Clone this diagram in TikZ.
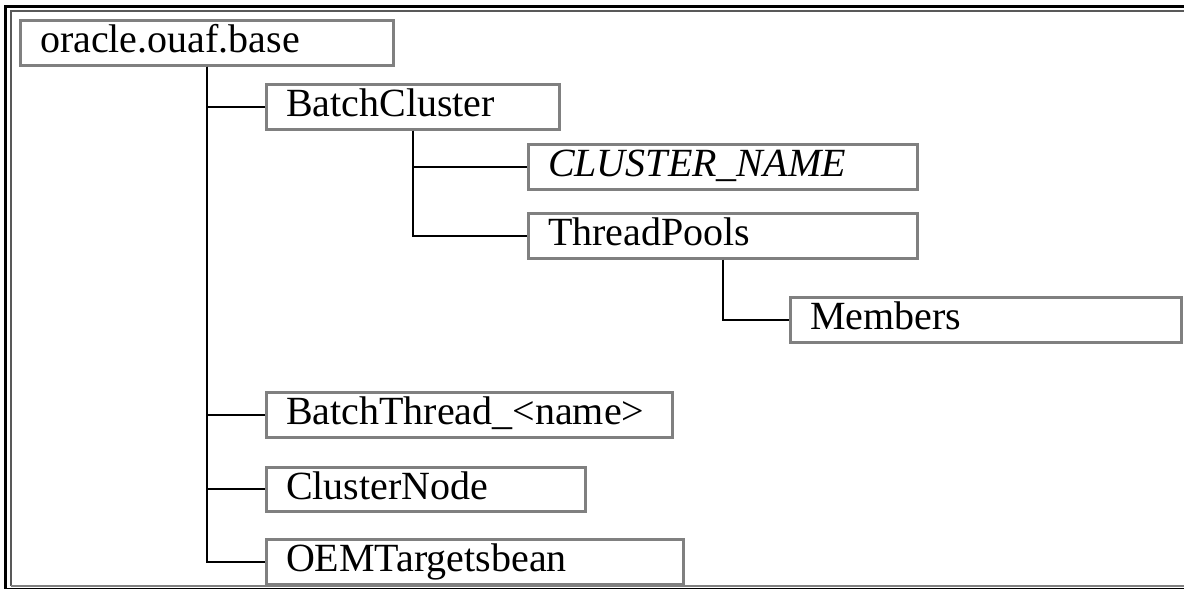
\documentclass[tikz,border=0pt]{standalone}
\usepackage{fontspec}
\setmainfont{Liberation Serif}
\usetikzlibrary{calc}

\tikzset{
  box/.style={draw=gray, line width=1.5pt, anchor=north west, align=left,
    inner xsep=10pt, inner ysep=2pt, minimum height=22.5pt, text height=14pt, text depth=4pt,
    font=\fontsize{20}{24}\selectfont},
  conn/.style={line width=1pt}
}

\begin{document}
\begin{tikzpicture}[x=0.5pt, y=-0.5pt]

  \useasboundingbox (0,0) rectangle (1184,589);

  % Double frame
  \draw[line width=1.5pt] (5,589) -- (5,6.5) -- (1184,6.5);
  \draw[line width=1pt, gray!70!black] (11,586) -- (11,11) -- (1184,11);
  \draw[line width=0.6pt, gray] (11,586) -- (1184,586);
  \draw[line width=0.8pt] (5,588.5) -- (1184,588.5);

  % Boxes
  \node[box, text width=166.5pt] (root) at (18.5,18.5) {oracle.ouaf.base};
  \node[box, text width=126.5pt] (cluster) at (264.5,82.5) {BatchCluster};
  \node[box, text width=174.5pt] (clname) at (526.5,142.5) {\itshape CLUSTER\_NAME};
  \node[box, text width=174.5pt] (pools) at (526.5,211.5) {ThreadPools};
  \node[box, text width=175.5pt] (members) at (788.5,295.5) {Members};
  \node[box, text width=183pt] (thread) at (264.5,390.5) {BatchThread\_<name>};
  \node[box, text width=139.5pt, minimum height=21.5pt] (cnode) at (264.5,465.5) {ClusterNode};
  \node[box, text width=188.5pt] (oem) at (264.5,537.5) {OEMTargetsbean};

  % Connectors from the root
  \draw[conn] (root.south) |- (oem.west);
  \draw[conn] (root.south) |- (cluster.west);
  \draw[conn] (root.south) |- (thread.west);
  \draw[conn] (root.south) |- (cnode.west);

  % Connectors from BatchCluster
  \draw[conn] (cluster.south) |- (pools.west);
  \draw[conn] (cluster.south) |- (clname.west);

  % Connector from ThreadPools
  \draw[conn] (pools.south) |- (members.west);

\end{tikzpicture}
\end{document}
